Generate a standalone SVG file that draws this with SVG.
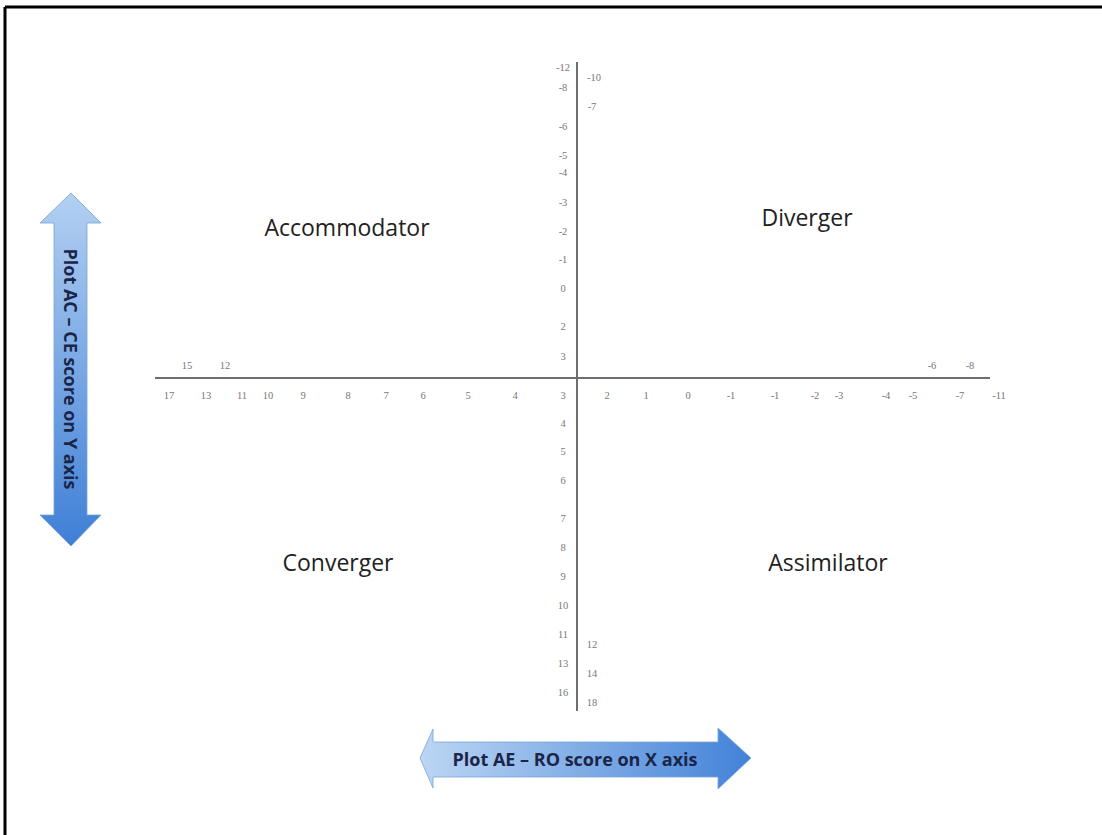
<svg xmlns="http://www.w3.org/2000/svg" width="1102" height="835" viewBox="0 0 1102 835">
<style>
.tk{font-family:"Liberation Serif",serif;font-size:10.5px;fill:#777;text-anchor:middle}
.q{font-family:"Open Sans","Liberation Sans",sans-serif;font-size:23px;fill:#222;text-anchor:middle}
.ax{font-family:"Open Sans","Liberation Sans",sans-serif;font-size:18px;font-weight:bold;fill:#1b2547;text-anchor:middle}
</style>
<defs>
<linearGradient id="gv" x1="0" y1="0" x2="0" y2="1">
<stop offset="0" stop-color="#b3d0f2"/><stop offset="1" stop-color="#3f7fd6"/>
</linearGradient>
<linearGradient id="gh" x1="0" y1="0" x2="1" y2="0">
<stop offset="0" stop-color="#bcd6f4"/><stop offset="1" stop-color="#4282d8"/>
</linearGradient>
</defs>
<rect width="1102" height="835" fill="#fff"/>
<g id="frame" stroke="#000" stroke-width="3" fill="none">
<line x1="5" y1="7" x2="1102" y2="7"/>
<line x1="5" y1="7" x2="5" y2="835"/>
</g>
<g id="connectors" stroke="#6e6e6e" stroke-width="2">
<line x1="577" y1="62" x2="577" y2="711"/>
<line x1="155" y1="378" x2="990" y2="378"/>
</g>
<g id="y-ticks">
<text class="tk" x="563" y="71">-12</text>
<text class="tk" x="563" y="91">-8</text>
<text class="tk" x="563" y="130">-6</text>
<text class="tk" x="563" y="159">-5</text>
<text class="tk" x="563" y="176">-4</text>
<text class="tk" x="563" y="206">-3</text>
<text class="tk" x="563" y="235">-2</text>
<text class="tk" x="563" y="263">-1</text>
<text class="tk" x="563" y="292">0</text>
<text class="tk" x="563" y="330">2</text>
<text class="tk" x="563" y="360">3</text>
<text class="tk" x="563" y="427">4</text>
<text class="tk" x="563" y="455">5</text>
<text class="tk" x="563" y="484">6</text>
<text class="tk" x="563" y="522">7</text>
<text class="tk" x="563" y="551">8</text>
<text class="tk" x="563" y="580">9</text>
<text class="tk" x="563" y="609">10</text>
<text class="tk" x="563" y="638">11</text>
<text class="tk" x="563" y="667">13</text>
<text class="tk" x="563" y="696">16</text>
<text class="tk" x="594" y="81">-10</text>
<text class="tk" x="592" y="110">-7</text>
<text class="tk" x="592" y="648">12</text>
<text class="tk" x="592" y="677">14</text>
<text class="tk" x="592" y="706">18</text>
</g>
<g id="x-ticks">
<text class="tk" x="169" y="399">17</text>
<text class="tk" x="206" y="399">13</text>
<text class="tk" x="242" y="399">11</text>
<text class="tk" x="268" y="399">10</text>
<text class="tk" x="303" y="399">9</text>
<text class="tk" x="348" y="399">8</text>
<text class="tk" x="386" y="399">7</text>
<text class="tk" x="423" y="399">6</text>
<text class="tk" x="468" y="399">5</text>
<text class="tk" x="515" y="399">4</text>
<text class="tk" x="563" y="399">3</text>
<text class="tk" x="607" y="399">2</text>
<text class="tk" x="646" y="399">1</text>
<text class="tk" x="688" y="399">0</text>
<text class="tk" x="731" y="399">-1</text>
<text class="tk" x="775" y="399">-1</text>
<text class="tk" x="815" y="399">-2</text>
<text class="tk" x="839" y="399">-3</text>
<text class="tk" x="886" y="399">-4</text>
<text class="tk" x="913" y="399">-5</text>
<text class="tk" x="960" y="399">-7</text>
<text class="tk" x="999" y="399">-11</text>
<text class="tk" x="187" y="369">15</text>
<text class="tk" x="225" y="369">12</text>
<text class="tk" x="932" y="369">-6</text>
<text class="tk" x="970" y="369">-8</text>
</g>
<g id="accommodator"><text class="q" x="347" y="236">Accommodator</text></g>
<g id="diverger"><text class="q" x="807" y="226">Diverger</text></g>
<g id="converger"><text class="q" x="338" y="571">Converger</text></g>
<g id="assimilator"><text class="q" x="828" y="571">Assimilator</text></g>
<g id="y-arrow">
<polygon points="71,193 101,223 87,223 87,515 101,515 71,546 40,515 54,515 54,223 40,223" fill="url(#gv)" stroke="#7aa3d6" stroke-width="0.8"/>
<text class="ax" transform="translate(64,369) rotate(90)">Plot AC – CE score on Y axis</text>
</g>
<g id="x-arrow">
<polygon points="420,758 433,729 433,742 718,742 718,728 751,758 718,789 718,777 433,777 433,788" fill="url(#gh)" stroke="#7aa3d6" stroke-width="0.8"/>
<text class="ax" x="575" y="766">Plot AE – RO score on X axis</text>
</g>
</svg>
